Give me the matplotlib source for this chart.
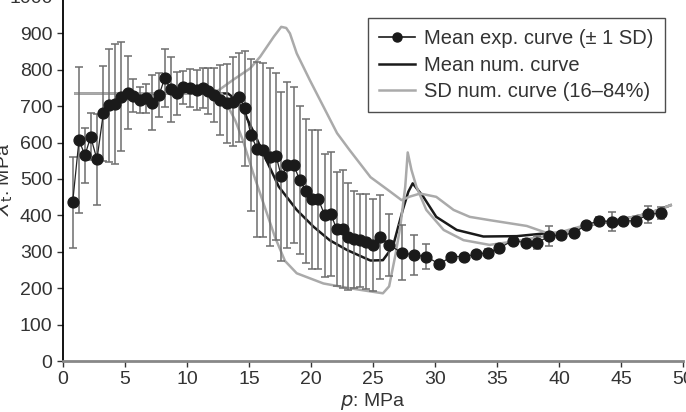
import matplotlib
matplotlib.use("Agg")
import matplotlib.pyplot as plt

plt.rcParams['font.family'] = ['Liberation Sans', 'DejaVu Sans']

# experimental mean curve (+/- 1 SD)
exp_p = [0.78, 1.29, 1.77, 2.23, 2.74, 3.25, 3.71, 4.19, 4.65, 5.21,
         5.67, 6.2, 6.7, 7.2, 7.74, 8.2, 8.68, 9.2, 9.7, 10.24,
         10.78, 11.26, 11.7, 12.2, 12.66, 13.2, 13.7, 14.2, 14.68, 15.15,
         15.67, 16.15, 16.7, 17.2, 17.6, 18.1, 18.6, 19.1, 19.6, 20.1,
         20.6, 21.1, 21.6, 22.07, 22.6, 23.0, 23.5, 23.95, 24.4, 24.97,
         25.6, 26.3, 27.3, 28.3, 29.3, 30.35, 31.3, 32.3, 33.3, 34.3,
         35.2, 36.3, 37.3, 38.25, 39.2, 40.2, 41.2, 42.2, 43.2, 44.25,
         45.2, 46.2, 47.2, 48.2]
exp_x = [436, 607, 565, 616, 554, 680, 702, 705, 726, 737,
         729, 717, 722, 710, 730, 777, 746, 735, 752, 749,
         744, 749, 742, 731, 717, 708, 712, 724, 694, 621,
         582, 580, 561, 562, 507, 538, 538, 497, 467, 444,
         444, 401, 404, 362, 362, 342, 334, 332, 328, 319,
         340, 319, 298, 291, 287, 266, 287, 287, 293, 298,
         311, 331, 325, 325, 343, 346, 352, 374, 385, 383,
         385, 385, 403, 406]
exp_sd = [125, 200, 75, 65, 125, 130, 155, 165, 150, 100,
          45, 35, 40, 75, 60, 80, 90, 60, 45, 52,
          55, 55, 64, 75, 95, 108, 122, 122, 159, 210,
          240, 240, 245, 230, 233, 228, 215, 203, 197, 190,
          191, 169, 170, 157, 162, 148, 133, 128, 130, 127,
          115, 85, 76, 55, 35, 8, 8, 8, 8, 10,
          10, 8, 10, 18, 27, 8, 8, 8, 10, 27,
          8, 8, 24, 16]

# mean numerical curve
num_p = [1.0, 13.3, 14.0, 14.5, 15.5, 16.15, 17.4, 18.85, 20.2, 21.5,
         22.9, 24.2, 24.8, 25.8, 26.6, 27.4, 27.85, 28.2, 29.06, 30.1,
         31.75, 33.9, 36.6, 39.0, 40.2, 42.2, 45.2, 47.2, 49.0]
num_x = [735, 735, 717, 690, 620, 570, 479, 415, 369, 332,
         305, 285, 276, 277, 314, 415, 465, 488, 451, 396,
         360, 342, 343, 351, 352, 372, 390, 405, 428]

# SD numerical curves (16 and 84 %)
up_p = [1.0, 12.0, 12.6, 13.7, 15.1, 15.9, 17.0, 17.6, 18.0, 18.3,
        18.85, 19.9, 21.0, 22.1, 23.1, 24.8, 26.4, 27.3, 28.0, 28.8,
        30.1, 31.5, 32.8, 34.4, 37.4, 39.0, 40.2, 42.2, 45.2, 47.2, 49.0]
up_x = [735, 735, 745, 772, 804, 836, 891, 918, 915, 900,
        845, 772, 699, 626, 580, 505, 465, 442, 452, 460,
        451, 415, 396, 387, 371, 352, 352, 372, 390, 405, 428]
lo_p = [1.0, 12.8, 13.3, 13.9, 14.5, 15.3, 16.2, 17.1, 17.9, 18.85,
        21.0, 23.1, 25.8, 26.3, 26.8, 27.2, 27.6, 27.8, 28.1, 28.5,
        29.3, 30.7, 32.3, 34.4, 36.3, 39.2, 42.2, 45.2, 47.2, 49.0]
lo_x = [735, 735, 700, 660, 607, 520, 430, 340, 275, 241,
        213, 200, 186, 205, 290, 369, 479, 573, 525, 479,
        415, 360, 332, 319, 328, 345, 374, 390, 405, 428]

fig = plt.figure(figsize=(6.86, 4.12), dpi=100)
ax = fig.add_axes([63 / 686, 51 / 412, 620 / 686, 364 / 412])

ax.plot(num_p, num_x, color='#1a1a1a', lw=1.8, zorder=2)
ax.plot(up_p, up_x, color='#aaaaaa', lw=1.8, zorder=3)
ax.plot(lo_p, lo_x, color='#aaaaaa', lw=1.8, zorder=3)
ax.errorbar(exp_p, exp_x, yerr=exp_sd, fmt='none', ecolor='#6e6e6e',
            elinewidth=1.1, capsize=3, capthick=1.1, zorder=4)
ax.plot(exp_p, exp_x, color='#222222', lw=0.9, marker='o', ms=7.8,
        mfc='#1a1a1a', mec='#1a1a1a', zorder=5)

# legend handles
h1, = ax.plot([], [], color='#1a1a1a', lw=1.2, marker='o', ms=6.5)
h2, = ax.plot([], [], color='#1a1a1a', lw=1.8)
h3, = ax.plot([], [], color='#aaaaaa', lw=1.8)
leg = ax.legend([h1, h2, h3],
                ['Mean exp. curve (\u00b1 1 SD)', 'Mean num. curve', 'SD num. curve (16\u201384%)'],
                loc='upper left', bbox_to_anchor=(0.492, 0.942), borderaxespad=0,
                fontsize=14.5, frameon=True, fancybox=False, edgecolor='#222222',
                handlelength=1.8, handletextpad=0.45, borderpad=0.55, labelspacing=0.37)
leg.get_frame().set_linewidth(1.0)
for t in leg.get_texts():
    t.set_color('#333333')

ax.set_xlim(0, 50)
ax.set_ylim(0, 1000)
ax.set_xticks(range(0, 51, 5))
ax.set_yticks(range(0, 1001, 100))
ax.spines['top'].set_visible(False)
ax.spines['right'].set_visible(False)
ax.spines['left'].set_linewidth(1.3)
ax.spines['bottom'].set_color('#888888')
ax.spines['bottom'].set_linewidth(2)
ax.tick_params(labelsize=14, colors='#333333', length=4, width=1)
ax.set_xlabel('$p$: MPa', fontsize=14, color='#333333', labelpad=2)
ax.set_ylabel('$X_\\mathrm{t}$: MPa', fontsize=14, color='#333333')
ax.yaxis.set_label_coords(-0.078, 0.5)

fig.savefig('out.png', dpi=100)
